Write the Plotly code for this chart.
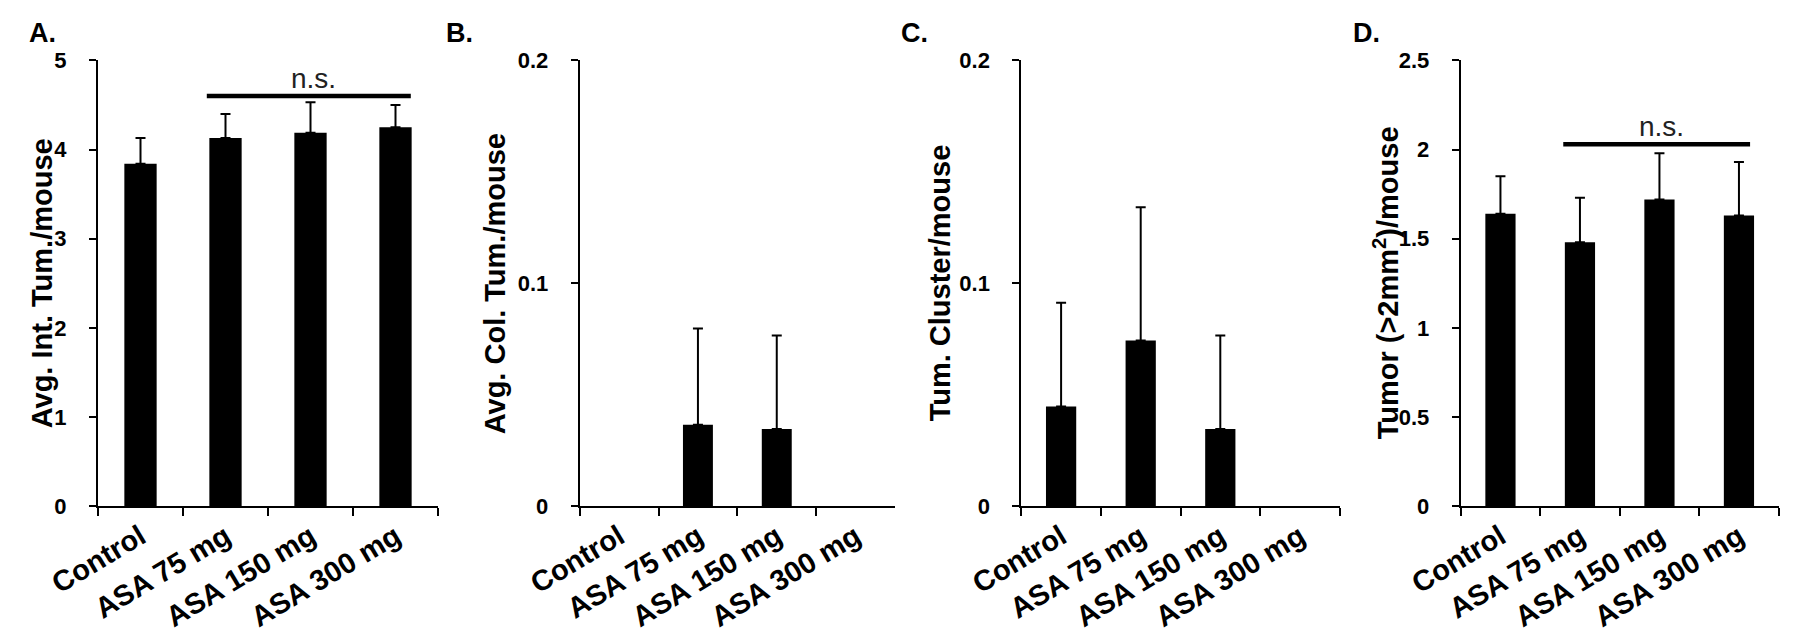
import plotly.graph_objects as go
from plotly.subplots import make_subplots

groups = ["Control", "ASA 75 mg", "ASA 150 mg", "ASA 300 mg"]

int_tum = [3.84, 4.13, 4.19, 4.25]
int_tum_err = [0.29, 0.27, 0.34, 0.25]

col_tum = [0, 0.0366, 0.0347, 0]
col_tum_err = [0, 0.0431, 0.0419, 0]

cluster = [0.0448, 0.0744, 0.0347, 0]
cluster_err = [0.0465, 0.0597, 0.0419, 0]

big_tum = [1.64, 1.48, 1.72, 1.63]
big_tum_err = [0.21, 0.25, 0.26, 0.30]

panels = [
    ("A.", "Avg. Int. Tum./mouse", int_tum, int_tum_err, [0, 5], 1),
    ("B.", "Avg. Col. Tum./mouse", col_tum, col_tum_err, [0, 0.2], 0.1),
    ("C.", "Tum. Cluster/mouse", cluster, cluster_err, [0, 0.2], 0.1),
    ("D.", "Tumor (>2mm<sup>2</sup>)/mouse", big_tum, big_tum_err, [0, 2.5], 0.5),
]

W, H = 1799, 642
FONT = "Liberation Sans, Arial, sans-serif"

# pixel extents of each plot area (left, right), shared top/bottom
x_px = [(90, 430), (571.7, 887), (1013.3, 1331.7), (1452.7, 1770.7)]
y_top, y_bot = 52.4, 498.3
title_x = [34, 487, 932, 1378]
letter_x = [34, 451, 906, 1358]

fig = make_subplots(rows=1, cols=4)

for i, (letter, title, vals, errs, rng, dt) in enumerate(panels):
    col = i + 1
    # zero groups: nothing drawn (no bar, no error cap)
    shown = [v if v else None for v in vals]
    fig.add_trace(go.Bar(
        x=groups, y=shown, width=0.38,
        marker=dict(color="black", line=dict(width=0)),
        error_y=dict(type="data", array=errs, arrayminus=[0] * 4, symmetric=False,
                     color="black", thickness=2, width=5),
        showlegend=False,
    ), row=1, col=col)

    xs = "xaxis" if i == 0 else f"xaxis{col}"
    ys = "yaxis" if i == 0 else f"yaxis{col}"
    fig.layout[xs].update(
        domain=[x_px[i][0] / W, x_px[i][1] / W], automargin=False,
        type="category", range=[-0.5, 3.5],
        showline=True, linecolor="black", linewidth=2,
        ticks="outside", tickson="boundaries", ticklen=8, tickwidth=2, tickcolor="black",
        tickangle=-31, showgrid=False, zeroline=False,
        tickfont=dict(family=FONT, size=29, color="black", weight="bold"),
    )
    fig.layout[ys].update(
        domain=[1 - y_bot / H, 1 - y_top / H], automargin=False,
        range=rng, dtick=dt, tick0=0,
        showline=True, linecolor="black", linewidth=2,
        ticks="outside", ticklen=7, tickwidth=2, tickcolor="black",
        showgrid=False, zeroline=False, ticklabelstandoff=18,
        tickfont=dict(family=FONT, size=22, color="black", weight="bold"),
    )

    fig.add_annotation(
        x=title_x[i] / W, y=1 - (y_top + y_bot) / 2 / H, xref="paper", yref="paper",
        text=title, textangle=-90, showarrow=False, xanchor="center", yanchor="middle",
        font=dict(family=FONT, size=29, color="black", weight="bold"),
    )
    fig.add_annotation(
        x=letter_x[i] / W, y=1 - 25 / H, xref="paper", yref="paper",
        text=letter, showarrow=False, xanchor="center", yanchor="middle",
        font=dict(family=FONT, size=27, color="black", weight="bold"),
    )

# n.s. brackets
for xr, yr, x0, x1, yv, xt in [("x", "y", 0.78, 3.18, 4.6, 2.04),
                               ("x4", "y4", 0.79, 3.14, 2.03, 2.02)]:
    fig.add_shape(type="line", xref=xr, yref=yr, x0=x0, x1=x1, y0=yv, y1=yv,
                  line=dict(color="black", width=4.5))
    fig.add_annotation(x=xt, y=yv, xref=xr, yref=yr, text="n.s.", showarrow=False,
                       xanchor="center", yanchor="bottom", yshift=0,
                       font=dict(family=FONT, size=28, color="#222"))

fig.update_layout(
    width=W, height=H, margin=dict(l=0, r=0, t=0, b=0),
    plot_bgcolor="white", paper_bgcolor="white",
)

fig.write_html("out.html")
